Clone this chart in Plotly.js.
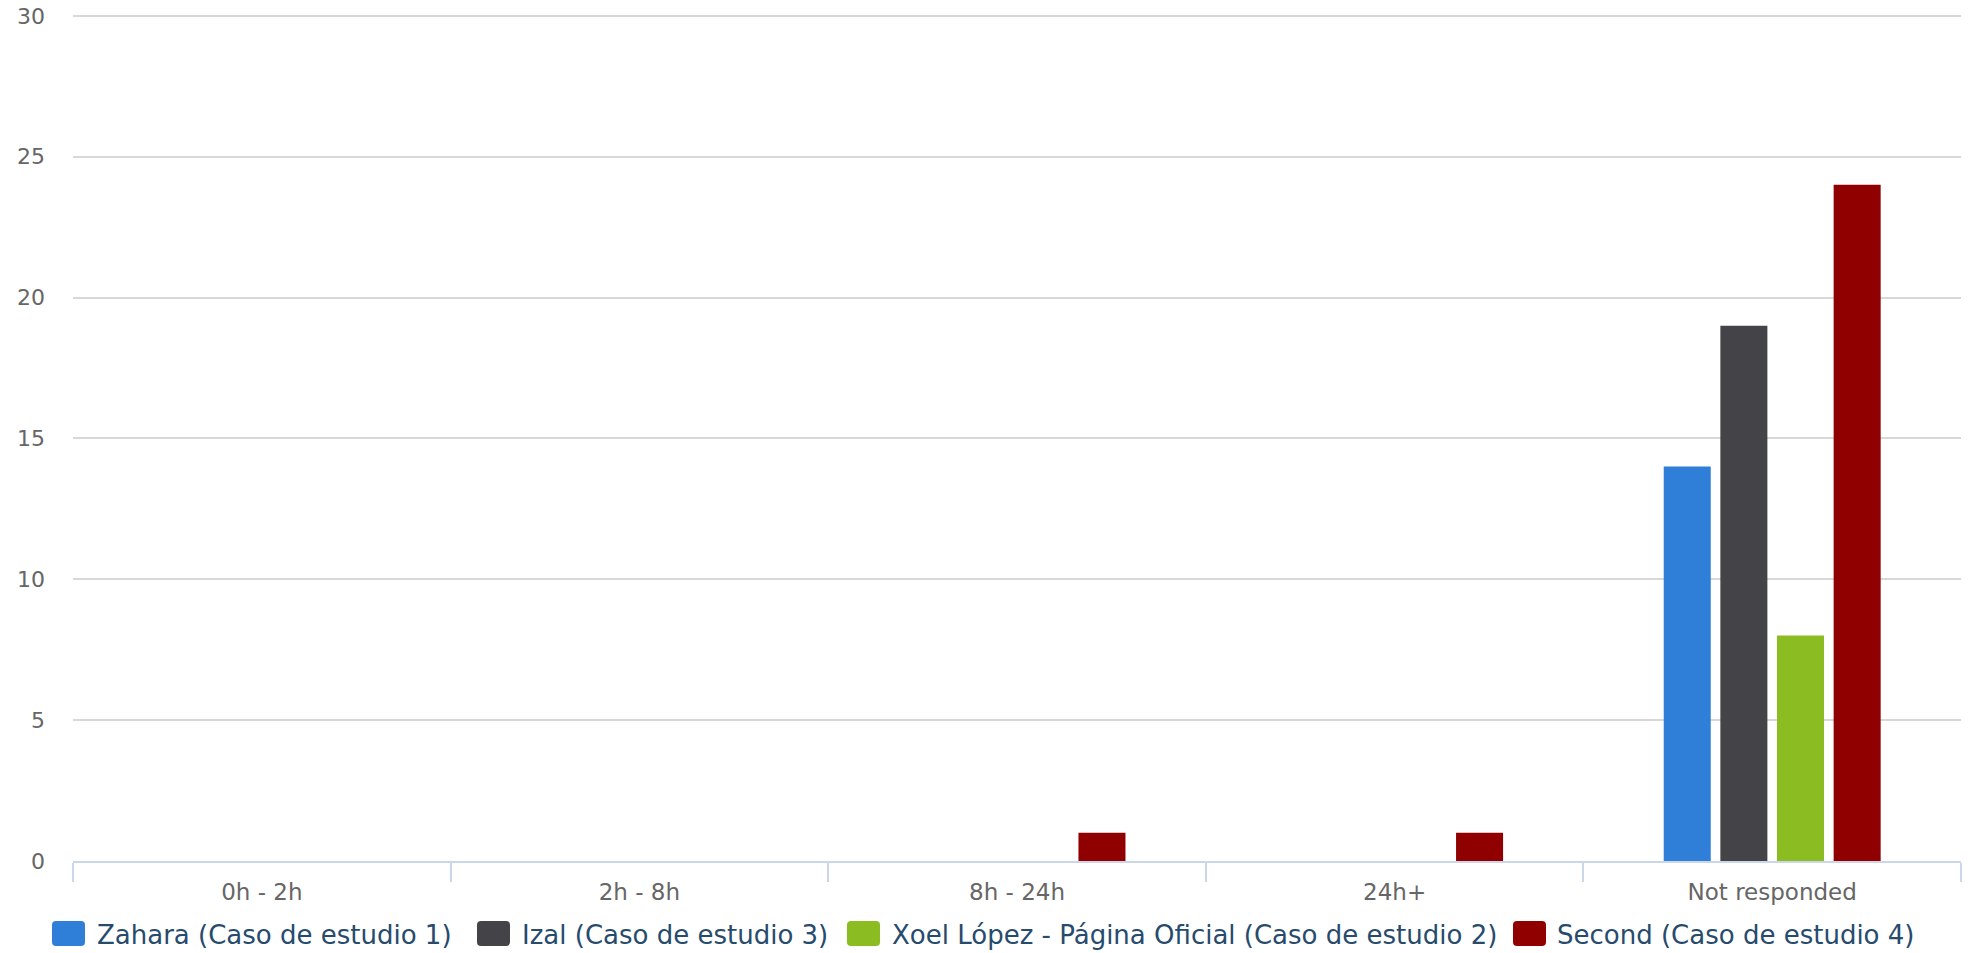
<!DOCTYPE html>
<html>
<head>
<meta charset="utf-8">
<script src="https://cdn.plot.ly/plotly-3.0.1.min.js"></script>
<style>
  html, body { margin: 0; padding: 0; background: #ffffff; }
  #chart { width: 1968px; height: 953px; }
</style>
</head>
<body>
<div id="chart"></div>
<script>
// ---- data ----
const categories = ["0h - 2h", "2h - 8h", "8h - 24h", "24h+", "Not responded"];
const seriesNames = [
  "Zahara (Caso de estudio 1)",
  "Izal (Caso de estudio 3)",
  "Xoel López - Página Oficial (Caso de estudio 2)",
  "Second (Caso de estudio 4)"
];
const zaharaValues = [0, 0, 0, 0, 14];
const izalValues   = [0, 0, 0, 0, 19];
const xoelValues   = [0, 0, 0, 0, 8];
const secondValues = [0, 0, 1, 1, 24];
const yTickValues  = [0, 5, 10, 15, 20, 25, 30];

// ---- styling ----
const seriesColors = ["#2f7ed8", "#434348", "#8bbc21", "#910000"];
const seriesValues = [zaharaValues, izalValues, xoelValues, secondValues];

const W = 1968, H = 953;
const M = { l: 73, r: 7, t: 13, b: 92 };
const plotW = W - M.l - M.r, plotH = H - M.t - M.b;
const pxToPaperX = px => (px - M.l) / plotW;
const pxToPaperY = py => (H - M.b - py) / plotH;

const traces = seriesNames.map((name, i) => ({
  type: "bar",
  name: name,
  x: categories,
  y: seriesValues[i],
  marker: { color: seriesColors[i], line: { width: 0 } },
  showlegend: false,
  hoverinfo: "x+y+name"
}));

// custom legend (rounded swatches + labels)
const legendSwatchLeft = [52, 477, 847, 1513];
const legendTextLeft = [97, 522, 892, 1557];
const legendY = 933.5;
const sw = 33, sh = 25, rr = 4;
function roundedRectPath(w, h, r) {
  const x0 = -w / 2, x1 = w / 2, y0 = -h / 2, y1 = h / 2;
  return `M${x0 + r},${y0} L${x1 - r},${y0} Q${x1},${y0} ${x1},${y0 + r} ` +
         `L${x1},${y1 - r} Q${x1},${y1} ${x1 - r},${y1} L${x0 + r},${y1} ` +
         `Q${x0},${y1} ${x0},${y1 - r} L${x0},${y0 + r} Q${x0},${y0} ${x0 + r},${y0} Z`;
}
const shapes = seriesNames.map((n, i) => ({
  type: "path",
  xref: "paper", yref: "paper",
  xsizemode: "pixel", ysizemode: "pixel",
  xanchor: pxToPaperX(legendSwatchLeft[i] + sw / 2),
  yanchor: pxToPaperY(legendY),
  path: roundedRectPath(sw, sh, rr),
  fillcolor: seriesColors[i],
  line: { width: 0 },
  layer: "above"
}));
const annotations = seriesNames.map((n, i) => ({
  text: n,
  xref: "paper", yref: "paper",
  x: pxToPaperX(legendTextLeft[i] - 2),
  y: pxToPaperY(legendY + 1),
  xanchor: "left", yanchor: "middle",
  showarrow: false,
  font: { family: "DejaVu Sans", size: 26, color: "#274b6d" }
}));

const layout = {
  width: W, height: H,
  margin: M,
  paper_bgcolor: "#ffffff",
  plot_bgcolor: "#ffffff",
  font: { family: "DejaVu Sans", color: "#666666" },
  barmode: "group",
  bargap: 0.4,
  bargroupgap: 0.17,
  showlegend: false,
  xaxis: {
    type: "category",
    range: [-0.5, 4.5],
    tickson: "boundaries",
    ticks: "outside",
    ticklen: 19,
    tickwidth: 2,
    tickcolor: "#ccd6eb",
    ticklabelstandoff: 9,
    showline: true,
    linecolor: "#ccd6eb",
    linewidth: 2,
    showgrid: false,
    zeroline: false,
    tickfont: { family: "DejaVu Sans", size: 23, color: "#666666" },
    fixedrange: true
  },
  yaxis: {
    range: [0, 30.1],
    tickvals: yTickValues,
    ticktext: yTickValues.map(String),
    ticks: "",
    ticklabelstandoff: 27,
    showgrid: true,
    gridcolor: "#d8d8d8",
    gridwidth: 2,
    zeroline: false,
    showline: false,
    tickfont: { family: "DejaVu Sans", size: 22, color: "#666666" },
    fixedrange: true
  },
  shapes: shapes,
  annotations: annotations
};

Plotly.newPlot("chart", traces, layout, { displayModeBar: false, staticPlot: true });
</script>
</body>
</html>
